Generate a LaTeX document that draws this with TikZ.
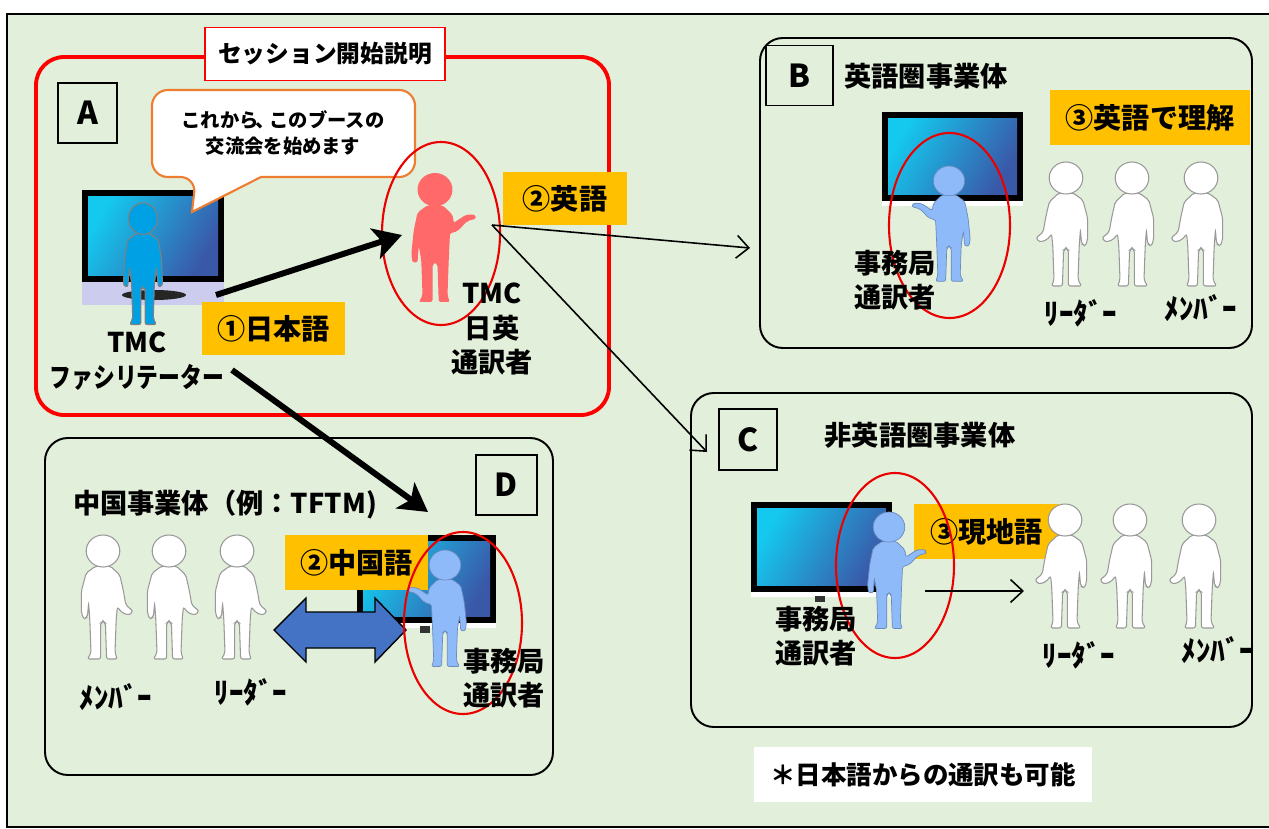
\documentclass[tikz,border=0pt]{standalone}
\usepackage{fontspec}
\setmainfont{Noto Sans CJK JP}
\usetikzlibrary{arrows.meta}

\definecolor{bgGreen}{RGB}{226,239,218}
\definecolor{tagOrange}{RGB}{255,192,0}
\definecolor{redE}{RGB}{235,0,0}
\definecolor{bubbleOrange}{RGB}{237,125,49}
\definecolor{facilBlue}{RGB}{0,160,228}
\definecolor{interpBlue}{RGB}{143,186,250}
\definecolor{redPerson}{RGB}{255,105,105}
\definecolor{arrowBlue}{RGB}{68,114,196}
\definecolor{lavender}{RGB}{204,204,238}
\definecolor{scrL}{RGB}{20,200,238}
\definecolor{scrR}{RGB}{58,88,168}

% Figures: origin at the top of the head, y grows downwards, 124 units tall
\tikzset{
  gesturer/.pic={
    \path[pic actions, rounded corners=1.2pt]
      (-6,31) -- (-14,38) -- (-17,55) -- (-19,78) -- (-18,86) -- (-14,86) -- (-13,70)
      -- (-11,84) -- (-10,118) -- (-13,124) -- (-2,124) -- (-2,88) -- (0,86) -- (2,88)
      -- (3,124) -- (12,124) -- (10,118) -- (11,84) -- (12,58) -- (18,56) -- (26,46)
      -- (33,44) -- (32,40) -- (25,40) -- (15,48) -- (14,40) -- (6,31) -- cycle;
    \path[pic actions] (0,16) ellipse [x radius=14, y radius=16];
  },
  stander/.pic={
    \path[pic actions, rounded corners=1.2pt]
      (-6,31) -- (-15,38) -- (-18,58) -- (-19,84) -- (-15,86) -- (-13,66) -- (-11,84)
      -- (-10,118) -- (-13,124) -- (-2,124) -- (-2,88) -- (0,86) -- (2,88) -- (2,124)
      -- (13,124) -- (10,118) -- (11,84) -- (13,66) -- (15,86) -- (19,84) -- (18,58)
      -- (15,38) -- (6,31) -- cycle;
    \path[pic actions] (0,16) ellipse [x radius=14, y radius=16];
  },
  idler/.pic={
    \path[pic actions, rounded corners=1.2pt]
      (-6,31) -- (-14,38) -- (-18,56) -- (-18,78) -- (-16,84) -- (-13,82) -- (-12,68)
      -- (-11,84) -- (-10,118) -- (-13,124) -- (-2,124) -- (-2,88) -- (0,86) -- (2,88)
      -- (3,124) -- (12,124) -- (10,118) -- (11,84) -- (12,72) -- (16,78) -- (22,80)
      -- (25,76) -- (19,70) -- (17,56) -- (14,40) -- (6,31) -- cycle;
    \path[pic actions] (0,16) ellipse [x radius=14, y radius=16];
  },
}

% Monitor: black frame with a gradient screen
\newcommand\drawscreen[4]{%
  \fill[black] (#1,#2) rectangle (#3,#4);
  \shade[left color=scrL, right color=scrR, shading angle=60] (#1+6,#2+6) rectangle (#3-6,#4-7);
}

\begin{document}
\begin{tikzpicture}[x=0.02cm, y=-0.02cm,
  lbl/.style={font=\bfseries\fontsize{15.5}{19.5}\selectfont, align=center, inner sep=0pt},
  heading/.style={font=\bfseries\fontsize{15.5}{19}\selectfont, inner sep=0pt},
  tag/.style={fill=tagOrange, font=\bfseries\fontsize{16}{19}\selectfont, inner sep=0pt},
  letterbox/.style={draw, line width=1.1pt, font=\bfseries\fontsize{18}{20}\selectfont, inner sep=0pt},
  unitbox/.style={draw, line width=1.1pt, rounded corners=13pt},
  focus/.style={draw=redE, line width=1.2pt},
  thickarrow/.style={line width=3.4pt, -{Stealth[length=16pt, width=18pt, inset=4pt]}},
  thinarrow/.style={line width=0.9pt, -{Straight Barb[length=7pt, width=13pt]}},
  small/.style={font=\bfseries\fontsize{16.5}{19}\selectfont, inner sep=0pt},
  whiteman/.style={fill=white, draw=gray!80, line width=0.6pt},
  helper/.style={fill=interpBlue, draw=interpBlue!75!black, line width=0.4pt},
]
\useasboundingbox (0,0) rectangle (1269,829);
\fill[white] (0,0) rectangle (1269,829);
\draw[fill=bgGreen, line width=1.3pt] (7,14) rectangle (1272,827);

% ---------------- A: session opening ----------------
\draw[draw=red, line width=2.2pt, rounded corners=16pt] (36,57) rectangle (609,415);
\node[draw=red, fill=white, line width=1pt, minimum width=4.8cm, minimum height=1.06cm,
      font=\bfseries\fontsize{13.5}{16}\selectfont] (title) at (325,54) {セッション開始説明};
\node[letterbox, minimum width=1.18cm, minimum height=1.2cm] (boxA) at (87.5,113) {A};

% facilitator monitor
\fill[lavender] (82,282) rectangle (224,305);
\drawscreen{82}{190}{224}{282}
\fill[black!85] (154,295) ellipse [x radius=32, y radius=5];
\pic[fill=facilBlue, draw=gray, line width=0.6pt, scale=0.98, xscale=1.05] at (143,203) {stander};

% speech bubble
\draw[draw=bubbleOrange, fill=white, line width=1.2pt]
  (196,177) -- (192,212) -- (261,177)
  [rounded corners=9pt] -- (415,177) -- (415,90) -- (152,90) -- (152,177) -- cycle;
\node[font=\bfseries\fontsize{11}{14.5}\selectfont, align=center, inner sep=0pt] (speech)
  at (283,133) {これから\kern-0.15em、\kern-0.3emこのブースの\\交流会を始めます};

% TMC interpreter
\pic[fill=redPerson, scale=1.04, xscale=1.2] at (435,173) {gesturer};
\draw[focus] (441,233.5) ellipse [x radius=59, y radius=91.5];

\node[lbl] (facil) at (137,361) {TMC\\\scalebox{0.8}[1]{ファシリテーター}};
\node[lbl] (tmc) at (492,329) {TMC\\日英\\通訳者};

\node[tag, minimum width=2.86cm, minimum height=1.06cm] (tagJa) at (273.5,328.5) {①日本語};
\node[tag, minimum width=2.48cm, minimum height=1.06cm] (tagEn) at (565,198.5) {②英語};

% ---------------- B: English-speaking unit ----------------
\draw[unitbox] (760,38) rectangle (1252,348);
\node[letterbox, minimum width=1.34cm, minimum height=1.2cm] (boxB) at (799.5,75.5) {B};
\node[heading] (headB) at (926,76) {英語圏事業体};
\node[tag, minimum width=4.0cm, minimum height=1.1cm] (tagB) at (1150,117.5) {③英語で理解};
\fill[white] (882,198) rectangle (1023,206);
\drawscreen{882}{112}{1023}{201}
\pic[helper, scale=0.93, xscale=-1.2] at (949,166) {gesturer};
\foreach \px in {1066,1132,1201}
  \pic[whiteman, scale=1.0, xscale=-1.2] at (\px,162) {idler};
\draw[focus] (949.5,225.5) ellipse [x radius=60.5, y radius=92.5];
\node[lbl] (staffB) at (895,280) {事務局\\通訳者};
\node[small] (leadB) at (1081,313) {ﾘｰﾀﾞｰ};
\node[small] (memB) at (1201,308) {ﾒﾝﾊﾞｰ};

% ---------------- C: non-English-speaking unit ----------------
\draw[unitbox] (691,393) rectangle (1252,727);
\node[letterbox, minimum width=1.16cm, minimum height=1.22cm] (boxC) at (748,439.5) {C};
\node[heading] (headC) at (920,435) {非英語圏事業体};
\fill[white] (751,590) rectangle (892,597);
\fill[black!80] (815,596) rectangle (825,602);
\drawscreen{751}{502}{892}{592}
\node[tag, minimum width=2.9cm, minimum height=1.1cm] (tagC) at (986.5,531.5) {③現地語};
\pic[helper, scale=0.94, xscale=1.2] at (889,512) {gesturer};
\foreach \px in {1065,1130,1199}
  \pic[whiteman, scale=1.0, xscale=-1.2] at (\px,504) {idler};
\draw[focus] (895,565.5) ellipse [x radius=59, y radius=92.5];
\node[lbl] (staffC) at (816,636) {事務局\\通訳者};
\node[small] (leadC) at (1079,655) {ﾘｰﾀﾞｰ};
\node[small] (memC) at (1218,650) {ﾒﾝﾊﾞｰ};
\coordinate (cFrom) at (925,591);
\coordinate (cTo) at (1024,591);
\draw[thinarrow] (cFrom) -- (cTo);

% ---------------- D: China unit ----------------
\draw[unitbox] (45,438) rectangle (553,775);
\node[letterbox, minimum width=1.22cm, minimum height=1.2cm] (boxD) at (506.5,485) {D};
\node[heading] (headD) at (225,505) {中国事業体（例：TFTM)};
\foreach \px in {103,169,237}
  \pic[whiteman, scale=1.0, xscale=1.2] at (\px,535) {idler};
\fill[white] (357,620) rectangle (496,628);
\fill[black!80] (420,626) rectangle (430,633);
\drawscreen{357}{535}{496}{623}
\node[tag, minimum width=2.86cm, minimum height=1.1cm] (tagD) at (356.5,562.5) {②中国語};
\draw[fill=arrowBlue, line width=0.8pt]
  (274,630) -- (306,598) -- (306,612) -- (375,612) -- (375,598) -- (406,630)
  -- (375,662) -- (375,648) -- (306,648) -- (306,662) -- cycle;
\pic[helper, scale=0.94, xscale=-1.2] at (445,550) {gesturer};
\draw[focus] (463,623) ellipse [x radius=59, y radius=91];
\node[lbl] (staffD) at (504,678) {事務局\\通訳者};
\node[small] (memD) at (116,697) {ﾒﾝﾊﾞｰ};
\node[small] (leadD) at (251,692) {ﾘｰﾀﾞｰ};

% ---------------- connectors ----------------
\coordinate (facilOut) at (216,295);
\coordinate (tmcIn) at (402,235);
\coordinate (facilDown) at (232,370);
\coordinate (dIn) at (428,512);
\coordinate (tmcOut) at (492,225);
\coordinate (bIn) at (750,248);
\coordinate (cIn) at (707,452);
\draw[thickarrow] (facilOut) -- (tmcIn);
\draw[thickarrow] (facilDown) -- (dIn);
\draw[thinarrow] (tmcOut) -- (bIn);
\draw[thinarrow] (tmcOut) -- (cIn);

% ---------------- footnote ----------------
\node[fill=white, minimum width=6.76cm, minimum height=1.1cm,
      font=\bfseries\fontsize{14.5}{17}\selectfont] (note) at (923,774.5) {＊日本語からの通訳も可能};
\end{tikzpicture}
\end{document}
